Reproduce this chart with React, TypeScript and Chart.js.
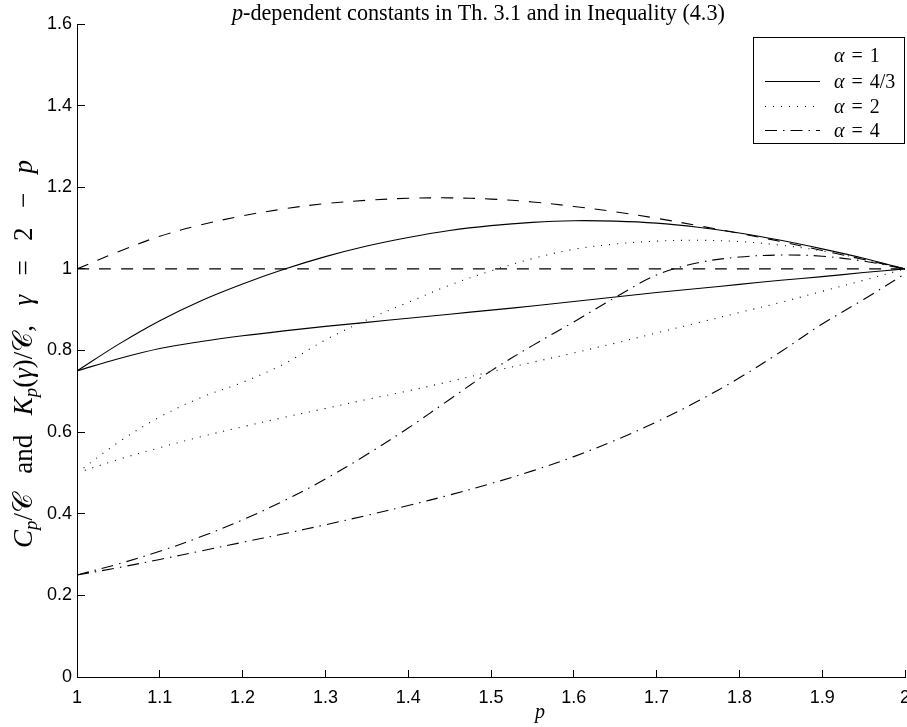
import React, { useEffect, useRef } from 'react';
import { Chart, registerables } from 'chart.js';

Chart.register(...registerables);

// ---------- data ----------
const pValues = [1.0, 1.05, 1.1, 1.15, 1.2, 1.25, 1.3, 1.35, 1.4, 1.45, 1.5, 1.55, 1.6, 1.65, 1.7, 1.75, 1.8, 1.85, 1.9, 1.95, 2.0];

// alpha = 1
const alpha1Cp = [1, 1, 1, 1, 1, 1, 1, 1, 1, 1, 1, 1, 1, 1, 1, 1, 1, 1, 1, 1, 1];
const alpha1Kp = [1.0, 1.042, 1.08, 1.108, 1.13, 1.147, 1.16, 1.168, 1.173, 1.174, 1.171, 1.164, 1.153, 1.14, 1.124, 1.106, 1.087, 1.067, 1.045, 1.023, 1.0];
// alpha = 4/3
const alpha43Kp = [0.75, 0.815, 0.873, 0.922, 0.963, 0.999, 1.03, 1.056, 1.077, 1.094, 1.106, 1.114, 1.118, 1.117, 1.112, 1.102, 1.088, 1.07, 1.049, 1.026, 1.0];
const alpha43Cp = [0.75, 0.78, 0.805, 0.822, 0.836, 0.848, 0.859, 0.869, 0.879, 0.889, 0.899, 0.909, 0.92, 0.931, 0.942, 0.952, 0.962, 0.972, 0.981, 0.991, 1.0];
// alpha = 2
const alpha2Kp = [0.5, 0.575, 0.637, 0.685, 0.722, 0.767, 0.826, 0.875, 0.918, 0.96, 0.995, 1.025, 1.048, 1.061, 1.068, 1.07, 1.067, 1.058, 1.044, 1.024, 1.0];
const alpha2Cp = [0.5, 0.533, 0.562, 0.589, 0.613, 0.636, 0.658, 0.68, 0.701, 0.724, 0.748, 0.771, 0.794, 0.818, 0.843, 0.868, 0.893, 0.918, 0.945, 0.972, 1.0];
// alpha = 4
const alpha4Kp = [0.25, 0.277, 0.308, 0.344, 0.385, 0.432, 0.485, 0.545, 0.61, 0.68, 0.75, 0.812, 0.87, 0.93, 0.985, 1.015, 1.029, 1.034, 1.031, 1.019, 1.0];
const alpha4Cp = [0.25, 0.268, 0.288, 0.309, 0.33, 0.351, 0.373, 0.396, 0.42, 0.446, 0.474, 0.505, 0.54, 0.58, 0.625, 0.676, 0.733, 0.797, 0.865, 0.925, 0.988];

const xTickValues = [1, 1.1, 1.2, 1.3, 1.4, 1.5, 1.6, 1.7, 1.8, 1.9, 2];
const xTickLabels = ['1', '1.1', '1.2', '1.3', '1.4', '1.5', '1.6', '1.7', '1.8', '1.9', '2'];
const yTickValues = [0, 0.2, 0.4, 0.6, 0.8, 1, 1.2, 1.4, 1.6];
const yTickLabels = ['0', '0.2', '0.4', '0.6', '0.8', '1', '1.2', '1.4', '1.6'];

const legendLabels = ['α = 1', 'α = 4/3', 'α = 2', 'α = 4'];
const titleItalicPart = 'p';
const titleRestPart = '-dependent constants in Th. 3.1 and in Inequality (4.3)';
const xAxisLabel = 'p';

// ---------- styles ----------
const DASH: Record<string, number[]> = {
  dashed: [12, 10],
  solid: [],
  dotted: [1, 7],
  dashdot: [12, 6, 1.5, 6],
};
const legendKinds = ['dashed', 'solid', 'dotted', 'dashdot'];
const legendSampleShown = [false, true, true, true];

const seriesDefs = [
  { label: legendLabels[0], kind: 'dashed', values: alpha1Kp },
  { label: legendLabels[0], kind: 'dashed', values: alpha1Cp },
  { label: legendLabels[1], kind: 'solid', values: alpha43Kp },
  { label: legendLabels[1], kind: 'solid', values: alpha43Cp },
  { label: legendLabels[2], kind: 'dotted', values: alpha2Kp },
  { label: legendLabels[2], kind: 'dotted', values: alpha2Cp },
  { label: legendLabels[3], kind: 'dashdot', values: alpha4Kp },
  { label: legendLabels[3], kind: 'dashdot', values: alpha4Cp },
];

const SERIF = '"Liberation Serif", "Times New Roman", serif';
const SANS = '"Liberation Sans", Arial, sans-serif';

type Seg = { t: string; it?: boolean; sub?: boolean; gap?: boolean };

function segFont(s: Seg, size: number) {
  const sz = s.sub ? size * 0.7 : size;
  return `${s.it ? 'italic ' : ''}${sz}px ${SERIF}`;
}
function measureSegs(ctx: CanvasRenderingContext2D, segs: Seg[], size: number) {
  let w = 0;
  for (const s of segs) {
    if (s.gap) continue;
    ctx.font = segFont(s, size);
    w += ctx.measureText(s.t).width;
  }
  return w;
}
function drawSegs(ctx: CanvasRenderingContext2D, segs: Seg[], size: number, x: number, y: number, gapW = 0) {
  let cx = x;
  ctx.textBaseline = 'alphabetic';
  ctx.textAlign = 'left';
  for (const s of segs) {
    if (s.gap) {
      cx += gapW;
      continue;
    }
    ctx.font = segFont(s, size);
    ctx.fillText(s.t, cx, s.sub ? y + size * 0.2 : y);
    cx += ctx.measureText(s.t).width;
  }
}

const textPlugin = {
  id: 'texts',
  afterDraw(chart: any) {
    const ctx: CanvasRenderingContext2D = chart.ctx;
    ctx.save();
    ctx.fillStyle = '#000';

    // title
    const titleSegs: Seg[] = [{ t: titleItalicPart, it: true }, { t: titleRestPart }];
    const tSize = (19 * 493) / measureSegs(ctx, titleSegs, 19);
    drawSegs(ctx, titleSegs, tSize, 232, 20);

    // x label
    const xs: Seg[] = [{ t: xAxisLabel, it: true }];
    const xw = measureSegs(ctx, xs, 20);
    drawSegs(ctx, xs, 20, 540 - xw / 2, 718);

    // y label (rotated)
    const G: Seg = { t: '', gap: true };
    const ySegs: Seg[] = [
      { t: 'C', it: true }, { t: 'p', it: true, sub: true }, { t: '/' }, { t: '𝒞' },
      G, { t: 'and' }, G,
      { t: 'K', it: true }, { t: 'p', it: true, sub: true }, { t: '(' }, { t: 'γ', it: true }, { t: ')' }, { t: '/' }, { t: '𝒞' },
      { t: ',' }, G, { t: 'γ', it: true }, G, { t: '=' }, G, { t: '2' }, G, { t: '−' }, G, { t: 'p', it: true },
    ];
    const ySize = 27;
    const nat = measureSegs(ctx, ySegs, ySize);
    const nGaps = ySegs.filter((s) => s.gap).length;
    const gapW = Math.max(4, (388 - nat) / nGaps);
    const total = nat + gapW * nGaps;
    ctx.save();
    ctx.translate(32, 354);
    ctx.rotate(-Math.PI / 2);
    drawSegs(ctx, ySegs, ySize, -total / 2, 0, gapW);
    ctx.restore();

    // legend
    const bx = 753, by = 37, bw = 151, bh = 106;
    ctx.fillStyle = '#fff';
    ctx.fillRect(bx, by, bw, bh);
    ctx.strokeStyle = '#000';
    ctx.lineWidth = 1;
    ctx.setLineDash([]);
    ctx.strokeRect(bx + 0.5, by + 0.5, bw, bh);
    const rows = [55, 81, 106, 130];
    legendLabels.forEach((lab, i) => {
      const ry = rows[i];
      if (legendSampleShown[i]) {
        ctx.beginPath();
        ctx.setLineDash(DASH[legendKinds[i]]);
        ctx.lineWidth = 1.1;
        ctx.moveTo(765, ry + 0.5);
        ctx.lineTo(820, ry + 0.5);
        ctx.stroke();
        ctx.setLineDash([]);
      }
      ctx.fillStyle = '#000';
      const parts = lab.split('=');
      const greek = parts[0].trim();
      const val = parts[1].trim();
      const fs = 20;
      let cx = 834;
      const base = ry + 7;
      ctx.textBaseline = 'alphabetic';
      ctx.textAlign = 'left';
      ctx.font = `italic ${fs}px ${SERIF}`;
      ctx.fillText(greek, cx, base);
      cx += ctx.measureText(greek).width + 7;
      ctx.font = `${fs}px ${SERIF}`;
      ctx.fillText('=', cx, base);
      cx += ctx.measureText('=').width + 7;
      ctx.fillText(val, cx, base);
    });
    ctx.restore();
  },
};

export default function App() {
  const ref = useRef<HTMLCanvasElement | null>(null);
  useEffect(() => {
    if (!ref.current) return;
    const datasets = seriesDefs.map((s) => ({
      label: s.label,
      data: pValues.map((p, i) => ({ x: p, y: s.values[i] })),
      borderColor: '#000',
      borderWidth: 1.1,
      borderDash: DASH[s.kind],
      pointRadius: 0,
      fill: false,
      tension: 0.35,
    }));
    const chart = new Chart(ref.current, {
      type: 'line',
      data: { datasets },
      plugins: [textPlugin],
      options: {
        animation: false,
        responsive: false,
        events: [],
        layout: { padding: { top: 24, right: 2, left: 0, bottom: 0 } },
        plugins: { legend: { display: false }, title: { display: false }, tooltip: { enabled: false } },
        scales: {
          x: {
            type: 'linear',
            min: 1,
            max: 2,
            afterBuildTicks: (s: any) => {
              s.ticks = xTickValues.map((v) => ({ value: v }));
            },
            afterFit: (s: any) => {
              s.height = 50;
              s.paddingLeft = 0;
              s.paddingRight = 0;
            },
            ticks: {
              autoSkip: false,
              maxRotation: 0,
              padding: 17,
              color: '#000',
              font: { family: SANS, size: 18 },
              callback: (_v: any, i: number) => xTickLabels[i],
            },
            grid: { drawOnChartArea: false, drawTicks: true, tickLength: -7, color: '#000', tickColor: '#000', tickWidth: 1 },
            border: { display: true, color: '#000', width: 1 },
          },
          y: {
            type: 'linear',
            min: 0,
            max: 1.6,
            afterBuildTicks: (s: any) => {
              s.ticks = yTickValues.map((v) => ({ value: v }));
            },
            afterFit: (s: any) => {
              s.width = 77;
              s.paddingTop = 0;
              s.paddingBottom = 0;
            },
            ticks: {
              autoSkip: false,
              padding: 13,
              color: '#000',
              font: { family: SANS, size: 18 },
              callback: (_v: any, i: number) => yTickLabels[i],
            },
            grid: { drawOnChartArea: false, drawTicks: true, tickLength: -8, color: '#000', tickColor: '#000', tickWidth: 1 },
            border: { display: true, color: '#000', width: 1 },
          },
        },
      },
    });
    return () => chart.destroy();
  }, []);
  return (
    <div style={{ position: 'fixed', left: 0, top: 0, width: 907, height: 727, background: '#fff' }}>
      <canvas ref={ref} width={907} height={727} style={{ display: 'block', width: 907, height: 727 }} />
    </div>
  );
}
